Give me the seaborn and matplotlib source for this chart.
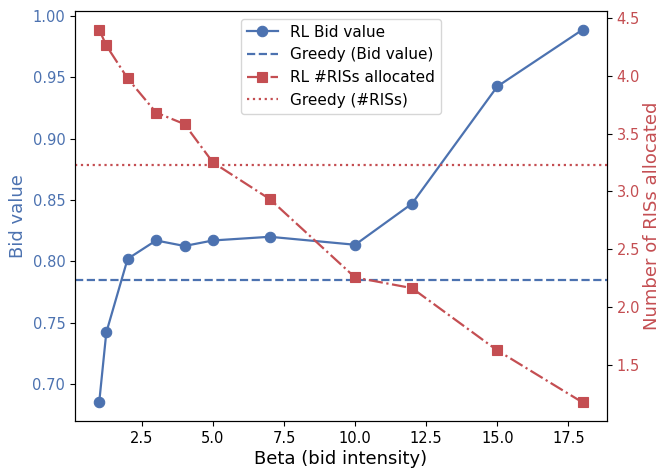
import matplotlib
matplotlib.use("Agg")
import matplotlib.pyplot as plt
import seaborn as sns
import pandas as pd

beta = [1, 1.25, 2, 3, 4, 5, 7, 10, 12, 15, 18]
rl_bid = [0.685, 0.742, 0.802, 0.817, 0.8125, 0.817, 0.820, 0.8135, 0.847, 0.9425, 0.9888]
rl_ris = [4.40, 4.263, 3.978, 3.683, 3.583, 3.251, 2.934, 2.256, 2.164, 1.625, 1.175]
greedy_bid = 0.7845
greedy_ris = 3.228

plt.rcParams['font.family'] = ['DejaVu Sans']

blue = sns.color_palette("deep")[0]
red = sns.color_palette("deep")[3]

df = pd.DataFrame({"beta": beta, "bid": rl_bid, "ris": rl_ris})

fig, ax = plt.subplots(figsize=(6.61, 4.71), dpi=100)
fig.subplots_adjust(left=0.1135, right=0.918, top=0.9766, bottom=0.106)

sns.lineplot(data=df, x="beta", y="bid", ax=ax, color=blue, marker="o",
             markersize=7.5, linewidth=1.6, markeredgecolor=blue, markeredgewidth=0.8,
             label="RL Bid value", legend=False)
ax.axhline(greedy_bid, color=blue, linestyle="--", linewidth=1.6, label="Greedy (Bid value)")
ax.set_xlabel("Beta (bid intensity)", fontsize=13, labelpad=3)
ax.set_ylabel("Bid value", fontsize=13, color=blue)
ax.tick_params(axis="y", labelcolor=blue, labelsize=10.5)
ax.tick_params(axis="x", labelsize=10.5)

ax2 = ax.twinx()
sns.lineplot(data=df, x="beta", y="ris", ax=ax2, color=red, marker="s",
             markersize=7.5, linewidth=1.6, markeredgecolor=red, markeredgewidth=0.8,
             label="RL #RISs allocated", legend=False)
ax2.lines[0].set_linestyle("-.")
ax2.axhline(greedy_ris, color=red, linestyle=":", linewidth=1.6, label="Greedy (#RISs)")
ax2.set_ylabel("Number of RISs allocated", fontsize=13, color=red, labelpad=2)
ax2.tick_params(axis="y", labelcolor=red, labelsize=10.5)

h1, lab1 = ax.get_legend_handles_labels()
h2, lab2 = ax2.get_legend_handles_labels()
ax2.legend(h1 + h2, lab1 + lab2, loc="upper center", fontsize=11, frameon=True)

fig.savefig("out.png", dpi=100)
